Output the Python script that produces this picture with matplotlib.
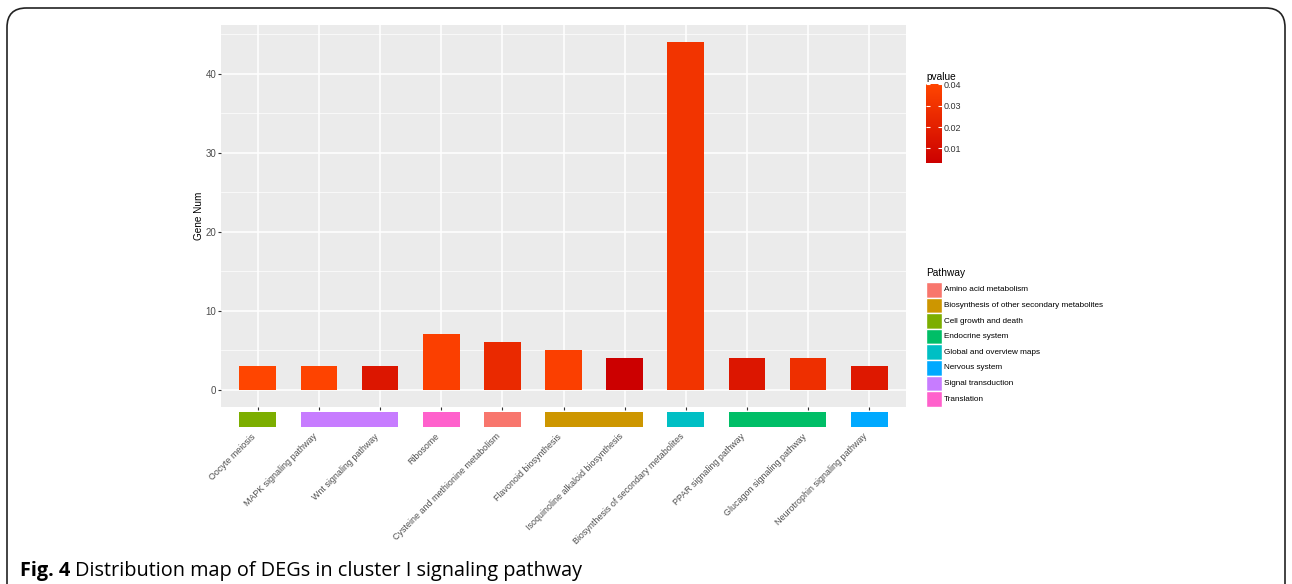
import matplotlib
matplotlib.use("Agg")
import matplotlib.pyplot as plt
import numpy as np
from matplotlib.patches import Rectangle, FancyBboxPatch
from matplotlib.colors import LinearSegmentedColormap, Normalize
from matplotlib.cm import ScalarMappable

plt.rcParams['font.family'] = ['Liberation Sans', 'DejaVu Sans']

# data
terms = ["Oocyte meiosis", "MAPK signaling pathway", "Wnt signaling pathway", "Ribosome",
         "Cysteine and methionine metabolism", "Flavonoid biosynthesis",
         "Isoquinoline alkaloid biosynthesis", "Biosynthesis of secondary metabolites",
         "PPAR signaling pathway", "Glucagon signaling pathway", "Neurotrophin signaling pathway"]
gene_num = [3, 3, 3, 7, 6, 5, 4, 44, 4, 4, 3]
pvalue = [0.040, 0.039, 0.015, 0.037, 0.025, 0.037, 0.0032, 0.031, 0.015, 0.028, 0.016]
term_pathway = ["Cell growth and death", "Signal transduction", "Signal transduction", "Translation",
                "Amino acid metabolism", "Biosynthesis of other secondary metabolites",
                "Biosynthesis of other secondary metabolites", "Global and overview maps",
                "Endocrine system", "Endocrine system", "Nervous system"]
pathways = ["Amino acid metabolism", "Biosynthesis of other secondary metabolites",
            "Cell growth and death", "Endocrine system", "Global and overview maps",
            "Nervous system", "Signal transduction", "Translation"]
pathway_colors = ["#F8766D", "#CD9600", "#7CAE00", "#00BE67", "#00BFC4", "#00A9FF", "#C77CFF", "#FF61CC"]

W, H = 1292, 584
fig = plt.figure(figsize=(W / 100, H / 100), dpi=100)


def px(x0, y0, x1, y1):
    # pixel box (top-left origin) -> figure fraction
    return [x0 / W, 1 - y1 / H, (x1 - x0) / W, (y1 - y0) / H]


cmap = LinearSegmentedColormap.from_list("pv", ["#CC0000", "#FF4500"])
pmin, pmax = 0.0032, 0.0401
norm = Normalize(pmin, pmax)

ax = fig.add_axes(px(221, 25, 906, 407))
ax.set_facecolor("#EBEBEB")
x = np.arange(len(terms))
ax.bar(x, gene_num, width=0.6, color=cmap(norm(pvalue)), zorder=3)
ax.set_xlim(-0.6, len(terms) - 0.4)
ymax = max(gene_num)
ax.set_ylim(-0.05 * ymax, ymax * 1.05)
ax.set_yticks([0, 10, 20, 30, 40])
ax.set_yticks([5, 15, 25, 35, 45], minor=True)
ax.grid(True, which="major", color="white", linewidth=1.1, zorder=0)
ax.grid(True, which="minor", axis="y", color="white", linewidth=0.5, zorder=0)
ax.set_axisbelow(True)
for s in ax.spines.values():
    s.set_visible(False)
ax.set_xticks(x)
ax.set_xticklabels(terms, rotation=45, ha="right", va="top", fontsize=6.4, color="#4D4D4D")
ax.tick_params(axis="x", length=2.5, color="#333333", pad=15.5)
ax.tick_params(axis="y", length=2.5, color="#333333", labelsize=7, labelcolor="#4D4D4D", pad=1)
ax.tick_params(which="minor", length=0)
ax.set_ylabel("Gene Num", fontsize=7.2, labelpad=1)

# pathway colour strips under the bars
sax = fig.add_axes(px(221, 412, 906, 427), sharex=ax)
sax.axis("off")
sax.set_ylim(0, 1)
i = 0
while i < len(terms):
    j = i
    while j + 1 < len(terms) and term_pathway[j + 1] == term_pathway[i]:
        j += 1
    col = pathway_colors[pathways.index(term_pathway[i])]
    sax.add_patch(Rectangle((i - 0.3, 0), j - i + 0.6, 1, facecolor=col, edgecolor="none"))
    i = j + 1

# colourbar
cax = fig.add_axes(px(926, 84, 942, 163))
cb = fig.colorbar(ScalarMappable(norm=norm, cmap=cmap), cax=cax, ticks=[0.01, 0.02, 0.03, 0.04])
cb.outline.set_visible(False)
cax.yaxis.set_major_formatter(matplotlib.ticker.FormatStrFormatter("%.2f"))
cax.tick_params(axis="y", direction="in", length=3, color="white", left=True, right=True,
                labelsize=6.5, labelcolor="#333333", pad=1)
fig.text(926 / W, 1 - 77 / H, "pvalue", fontsize=7.3, va="center", ha="left")

# pathway legend
fig.text(926 / W, 1 - 273 / H, "Pathway", fontsize=7.3, va="center", ha="left")
lax = fig.add_axes(px(926, 282, 1120, 407))
lax.axis("off")
lax.set_xlim(0, 194)
lax.set_ylim(len(pathways), 0)
for k, (name, col) in enumerate(zip(pathways, pathway_colors)):
    lax.add_patch(Rectangle((0, k), 16, 1, facecolor=col, edgecolor="white", linewidth=1))
    lax.text(18, k + 0.5, name, fontsize=5.9, va="center", ha="left", color="black")

# frame and caption
frame = FancyBboxPatch((7 / W, -0.1), 1278 / W, 1 - 8 / H + 0.1,
                       boxstyle="round,pad=0,rounding_size=0.015", transform=fig.transFigure,
                       facecolor="none", edgecolor="#222222", linewidth=1.2, mutation_aspect=W / H)
fig.add_artist(frame)
t1 = fig.text(20 / W, 1 - 571 / H, "Fig. 4", fontsize=14.3, fontweight="bold",
              family=["Open Sans", "DejaVu Sans"], va="center", ha="left")
fig.canvas.draw()
bb = t1.get_window_extent()
fig.text(bb.x1 / W + 5 / W, 1 - 571 / H, "Distribution map of DEGs in cluster I signaling pathway",
         fontsize=14.3, family=["Open Sans", "DejaVu Sans"], va="center", ha="left")

fig.savefig("out.png", dpi=100)
